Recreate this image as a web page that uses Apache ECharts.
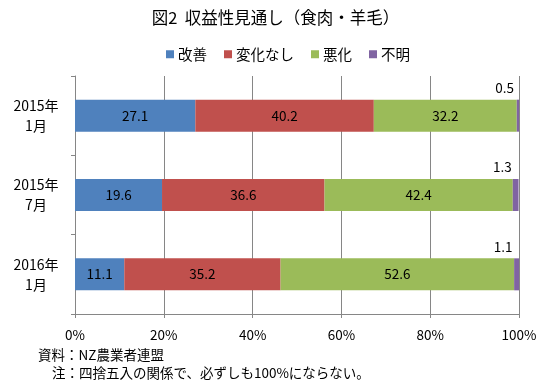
<!DOCTYPE html>
<html><head><meta charset="utf-8">
<script src="https://cdn.jsdelivr.net/npm/echarts@6/dist/echarts.min.js"></script>
<style>html,body{margin:0;padding:0;background:#fff}#c{width:551px;height:391px}</style>
</head><body><div id="c"></div>
<script>
const categories = ['2015年\n1月', '2015年\n7月', '2016年\n1月'];
const seriesNames = ['改善', '変化なし', '悪化', '不明'];
const kaizen = [27.1, 19.6, 11.1];
const henka = [40.2, 36.6, 35.2];
const akka = [32.2, 42.4, 52.6];
const fumei = [0.5, 1.3, 1.1];
const xTicks = [0, 20, 40, 60, 80, 100];
const colors = ['#4F81BD', '#C0504D', '#9BBB59', '#8064A2'];
const FONT = '"Noto Sans CJK JP", sans-serif';

const chart = echarts.init(document.getElementById('c'));
const values = [kaizen, henka, akka, fumei];
const series = values.map((v, i) => ({
  name: seriesNames[i],
  type: 'bar',
  stack: 'total',
  barWidth: 32,
  data: v,
  itemStyle: { color: colors[i] },
  label: i < 3 ? {
    show: true, position: 'inside', color: '#000', fontSize: 13.5, fontFamily: FONT,
    formatter: p => p.value.toFixed(1)
  } : {
    show: true, position: 'top', align: 'right', offset: [-4, 0], distance: 5,
    color: '#000', fontSize: 13.5, fontFamily: FONT,
    formatter: p => p.value.toFixed(1)
  }
}));

chart.setOption({
  animation: false,
  textStyle: { fontFamily: FONT },
  title: {
    text: '図2  収益性見通し（食肉・羊毛）',
    left: 'center', top: 4,
    textStyle: { fontSize: 16.5, fontWeight: 'normal', color: '#000', fontFamily: FONT }
  },
  legend: {
    data: seriesNames, top: 42, left: 161,
    icon: 'rect', itemWidth: 8, itemHeight: 8, itemGap: 17, itemStyle: { borderWidth: 0 },
    textStyle: { fontSize: 14.5, color: '#000', fontFamily: FONT, padding: [0, 0, 0, -1] }
  },
  grid: { left: 75, right: 32, top: 76, bottom: 77, containLabel: false },
  xAxis: {
    type: 'value', min: 0, max: 100, interval: 20,
    axisLine: { show: true, lineStyle: { color: '#868686' } },
    axisTick: { show: true, length: 4, lineStyle: { color: '#868686' } },
    splitLine: { show: true, lineStyle: { color: '#868686' } },
    axisLabel: {
      color: '#000', fontSize: 13.5, fontFamily: FONT, margin: 14,
      formatter: v => xTicks.includes(v) ? v + '%' : ''
    }
  },
  yAxis: {
    type: 'category', data: categories, inverse: true,
    axisLine: { show: true, lineStyle: { color: '#868686' } },
    axisTick: { show: true, length: 4, lineStyle: { color: '#868686' } },
    axisLabel: { color: '#000', fontSize: 14, fontFamily: FONT, lineHeight: 20, align: 'center', margin: 39 }
  },
  series: series,
  graphic: [
    { type: 'text', left: 38, top: 348, style: { text: '資料：NZ農業者連盟', fontSize: 13.5, fill: '#000', fontFamily: FONT } },
    { type: 'text', left: 52, top: 366, style: { text: '注：四捨五入の関係で、必ずしも100%にならない。', fontSize: 13.5, fill: '#000', fontFamily: FONT } }
  ]
});
</script></body></html>
